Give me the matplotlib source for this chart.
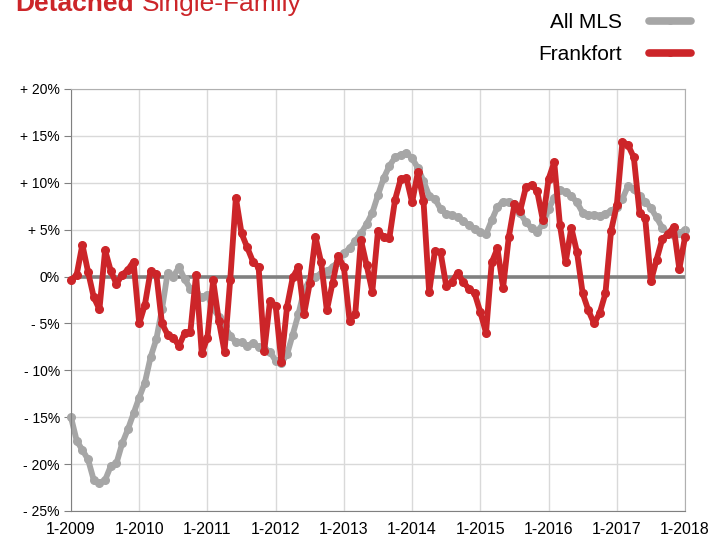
import matplotlib
matplotlib.use("Agg")
import matplotlib.pyplot as plt
import numpy as np

# monthly year-over-year change, 1-2009 .. 1-2018
allMls = [-15.0, -17.5, -18.5, -19.5, -21.7, -22.0, -21.7, -20.2, -19.9, -17.8,
          -16.3, -14.6, -12.9, -11.3, -8.6, -6.7, -3.5, 0.4, 0.0, 1.0,
          -0.3, -1.3, -1.8, -2.2, -2.0, -3.4, -4.3, -5.3, -6.3, -7.0,
          -7.0, -7.4, -7.1, -7.5, -7.7, -8.0, -9.0, -9.2, -8.3, -6.2,
          -4.0, -1.5, -0.3, 0.0, 0.3, 0.6, 1.0, 1.6, 2.5, 3.0,
          3.8, 4.6, 5.6, 6.8, 8.7, 10.5, 11.8, 12.7, 13.0, 13.2,
          12.6, 11.6, 10.2, 8.6, 8.3, 7.2, 6.7, 6.6, 6.3, 5.9,
          5.5, 5.1, 4.7, 4.5, 6.0, 7.4, 8.0, 8.0, 7.7, 6.8,
          5.8, 5.2, 4.8, 5.6, 7.2, 8.4, 9.2, 9.0, 8.6, 7.9,
          6.8, 6.6, 6.6, 6.5, 6.7, 7.0, 7.4, 8.3, 9.7, 9.3,
          8.6, 8.0, 7.3, 6.3, 5.2, 4.6, 4.4, 4.6, 5.0]
frankfort = [-0.4, 0.2, 3.4, 0.5, -2.2, -3.5, 2.8, 0.6, -0.8, 0.2,
             0.7, 1.6, -5.0, -3.0, 0.6, 0.3, -5.0, -6.2, -6.5, -7.4,
             -6.0, -5.9, 0.2, -8.2, -6.5, -0.4, -4.7, -8.0, -0.4, 8.4,
             4.6, 3.1, 1.6, 1.0, -7.9, -2.6, -3.1, -9.1, -3.2, -0.1,
             1.0, -4.0, -0.7, 4.2, 1.5, -3.6, -0.7, 2.2, 1.0, -4.7,
             -4.0, 3.9, 1.2, -1.6, 4.9, 4.2, 4.1, 8.2, 10.4, 10.5,
             7.9, 11.1, 8.1, -1.7, 2.7, 2.6, -1.0, -0.6, 0.4, -0.6,
             -1.3, -1.8, -3.8, -6.0, 1.5, 3.0, -1.2, 4.2, 7.7, 7.0,
             9.5, 9.8, 9.1, 6.0, 10.4, 12.2, 5.5, 1.5, 5.2, 2.6,
             -1.8, -3.6, -5.0, -3.9, -1.8, 4.9, 7.6, 14.4, 14.0, 12.7,
             6.8, 6.2, -0.5, 1.8, 4.0, 4.5, 5.3, 0.8, 4.2]
xLabels = ["1-2009", "1-2010", "1-2011", "1-2012", "1-2013",
           "1-2014", "1-2015", "1-2016", "1-2017", "1-2018"]
yTicks = [20, 15, 10, 5, 0, -5, -10, -15, -20, -25]
yLabels = ["+ 20%", "+ 15%", "+ 10%", "+ 5%", "0%",
           "- 5%", "- 10%", "- 15%", "- 20%", "- 25%"]

gray = "#a6a6a6"
red = "#cc2529"

plt.rcParams["font.family"] = ["Liberation Sans", "DejaVu Sans"]
fig = plt.figure(figsize=(7.1, 5.38), dpi=100)
ax = fig.add_axes([0.1, 0.0502, 0.8648, 0.7844])

months = np.arange(len(allMls))
ax.axhline(0, color="#808080", lw=2.6, zorder=1.5)
lineStyle = dict(lw=4.2, marker="o", ms=5.5, clip_on=False,
                 solid_joinstyle="round", solid_capstyle="round")
grayLine, = ax.plot(months, allMls, color=gray, label="All MLS", zorder=2, **lineStyle)
redLine, = ax.plot(months, frankfort, color=red, label="Frankfort", zorder=3, **lineStyle)

ax.set_xlim(0, 108)
ax.set_ylim(-25, 20)
ax.set_xticks(np.arange(0, 109, 12), labels=xLabels)
ax.set_yticks(yTicks, labels=yLabels)
ax.tick_params(axis="x", length=0, pad=8, labelsize=11.5)
ax.tick_params(axis="y", length=5, color="#808080", pad=3, labelsize=10)
ax.grid(True, color="#d9d9d9", lw=1)
ax.set_axisbelow(True)
for side in ["left", "bottom"]:
    ax.spines[side].set_color("#808080")
for side in ["top", "right"]:
    ax.spines[side].set_color("#b0b0b0")

# title, mostly cut off at the top like the original
fig.text(0.021, 0.9796, "Detached", color=red, fontsize=19, fontweight="bold",
         va="baseline", ha="left")
fig.text(0.2, 0.9796, "Single-Family", color=red, fontsize=19,
         va="baseline", ha="left")

leg = fig.legend(handles=[grayLine, redLine], loc="upper right",
                 bbox_to_anchor=(0.973, 0.976), frameon=False, markerfirst=False,
                 fontsize=15, handlelength=2.0, handletextpad=1.3, labelspacing=0.65,
                 borderpad=0, borderaxespad=0)
for ln in leg.get_lines():
    ln.set_linewidth(5.5)
    ln.set_markersize(4)

fig.savefig("out.png", dpi=100)
